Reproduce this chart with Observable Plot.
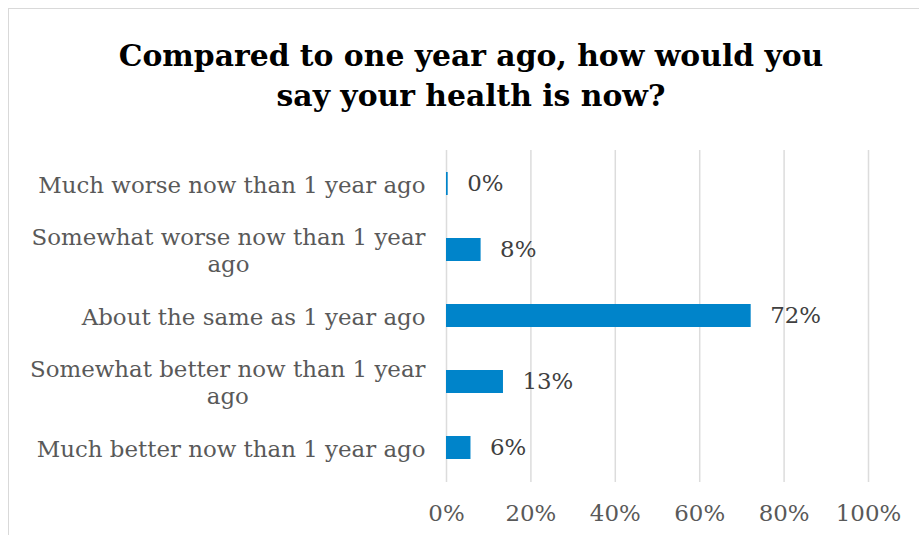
<!DOCTYPE html>
<html>
<head>
<meta charset="utf-8">
<script src="https://cdn.jsdelivr.net/npm/d3@7"></script>
<script src="https://cdn.jsdelivr.net/npm/@observablehq/plot@0.6"></script>
<style>
  html, body { margin: 0; padding: 0; background: #fff; overflow: hidden; }
  #wrap { position: relative; width: 919px; height: 535px; }
  #frame { position: absolute; left: 8px; top: 8px; width: 930px; height: 560px; border: 1.5px solid #d9d9d9; box-sizing: border-box; }
  #title { position: absolute; left: 22px; top: 36px; width: 898px; text-align: center; font-family: "DejaVu Serif", serif; font-weight: bold; font-size: 29.8px; line-height: 40px; color: #000; }
  #chart { position: absolute; left: 0; top: 0; }
</style>
</head>
<body>
<div id="wrap">
  <div id="frame"></div>
  <div id="title">Compared to one year ago, how would you<br>say your health is now?</div>
  <div id="chart"></div>
</div>
<script>
const categories = [
  "Much worse now than 1 year ago",
  "Somewhat worse now than 1 year ago",
  "About the same as 1 year ago",
  "Somewhat better now than 1 year ago",
  "Much better now than 1 year ago"
];
const tickLabels = [
  "Much worse now than 1 year ago",
  "Somewhat worse now than 1 year\nago",
  "About the same as 1 year ago",
  "Somewhat better now than 1 year\nago",
  "Much better now than 1 year ago"
];
const values = [0.4, 8.2, 72.2, 13.5, 5.8];
const valueLabels = ["0%", "8%", "72%", "13%", "6%"];
const xTicks = [0, 20, 40, 60, 80, 100];
const xTickLabels = ["0%", "20%", "40%", "60%", "80%", "100%"];

const data = categories.map((c, i) => ({category: c, value: values[i], label: valueLabels[i]}));

const FS = 22.9;
const chart = Plot.plot({
  width: 919,
  height: 535,
  marginLeft: 446,
  marginRight: 51,
  marginTop: 150,
  marginBottom: 53,
  style: {fontFamily: "DejaVu Serif", fontSize: FS + "px", color: "#595959", background: "transparent"},
  x: {domain: [0, 100]},
  y: {domain: categories, paddingInner: 0.65, paddingOuter: 0.325},
  marks: [
    Plot.gridX(xTicks, {stroke: "#dcdcdc", strokeOpacity: 1, strokeWidth: 1.5}),
    Plot.axisX({ticks: xTicks, tickSize: 0, tickPadding: 22, tickFormat: d => xTickLabels[xTicks.indexOf(d)], label: null, fontSize: FS, fill: "#595959"}),
    Plot.axisY({tickSize: 0, tickPadding: 21, tickFormat: d => tickLabels[categories.indexOf(d)], label: null, fontSize: FS, lineHeight: 1.18, fill: "#595959"}),
    Plot.barX(data, {x: "value", y: "category", fill: "#0084CA"}),
    Plot.text(data, {x: "value", y: "category", text: "label", textAnchor: "start", dx: 19, fill: "#404040", fontSize: FS})
  ]
});
document.getElementById("chart").appendChild(chart);

// center the lines of wrapped labels within their right-aligned block
d3.select(chart).selectAll("g[aria-label='y-axis tick label'] text").each(function() {
  const tspans = this.querySelectorAll("tspan");
  if (tspans.length > 1) {
    let maxW = 0;
    tspans.forEach(t => { maxW = Math.max(maxW, t.getComputedTextLength()); });
    this.setAttribute("text-anchor", "middle");
    tspans.forEach(t => t.setAttribute("x", -maxW / 2));
  }
});
</script>
</body>
</html>
